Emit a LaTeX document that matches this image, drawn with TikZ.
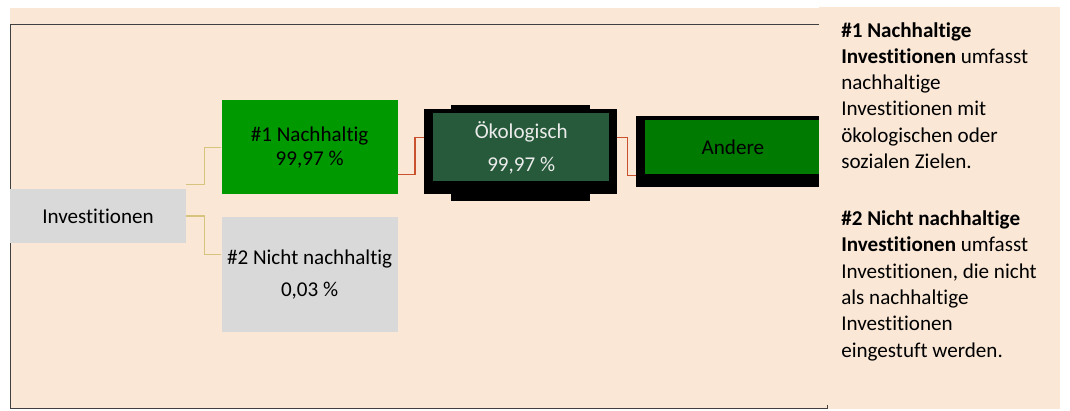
\documentclass[tikz,border=0pt]{standalone}
\usepackage{fontspec}
\setmainfont{Carlito}[Ligatures=NoCommon]
\usetikzlibrary{positioning,backgrounds}
\definecolor{beige}{HTML}{FAE7D6}
\definecolor{boxgray}{HTML}{D9D9D9}
\definecolor{nachgreen}{HTML}{009900}
\definecolor{oekogreen}{HTML}{265A3A}
\definecolor{anderegreen}{HTML}{007A00}
\definecolor{tanline}{HTML}{D6C47E}
\definecolor{redline}{HTML}{C9512E}
\tikzstyle{block} = [rectangle, align=center, inner sep=0pt, minimum width=4.4cm, font=\fontsize{15}{18}\selectfont]
\tikzstyle{blockgray} = [block, fill=boxgray]
\tikzstyle{line1} = [draw, tanline, line width=1.1pt]
\tikzstyle{line2} = [draw, redline, line width=1.3pt]

\begin{document}
\begin{tikzpicture}[x=0.025cm, y=-0.025cm]
    \useasboundingbox (0,0) rectangle (1070,410);
    \node [blockgray, minimum height=1.35cm] (inv) at (98,216) {Investitionen};
    \node [block, fill=nachgreen, minimum height=2.35cm, above right=-0.15cm and 0.875cm of inv] (nach) {\#1 Nachhaltig\\[-1pt]99,97 \%};
    \node [blockgray, minimum height=2.875cm, below right=-0.675cm and 0.875cm of inv] (nicht) {\#2 Nicht nachhaltig\\[4.8pt]0,03 \%};
    \node [block, fill=oekogreen, text=white!92!black, minimum height=1.7cm, right=0.875cm of nach] (oeko) {Ökologisch\\[5.5pt]99,97 \%};
    \node [block, fill=anderegreen, minimum height=1.35cm, right=0.875cm of oeko] (andere) {Andere};
    \begin{pgfonlayer}{background}
        \fill [beige] (10,8) rectangle (1060,409);
        \draw [line width=0.7pt, black!75] (10,24) rectangle (827,408);
        \fill ([shift={(-9,12)}]oeko.south west) rectangle ([shift={(7,-4)}]oeko.north east);
        \fill ([shift={(18,19)}]oeko.south west) rectangle ([shift={(-20,-8)}]oeko.north east);
        \fill ([shift={(-9,12)}]andere.south west) rectangle ([shift={(9,-4)}]andere.north east);
    \end{pgfonlayer}
    \path [line1] ([shift={(0,-4)}]inv.north east) -- ++(18,0) |- (nach.west);
    \path [line1] (inv.east) -- ++(18,0) |- ([shift={(0,-19.5)}]nicht.west);
    \path [line2] ([shift={(0,27)}]nach.east) -- ++(17,0) |- ([shift={(-9,-10)}]oeko.west);
    \path [line2] ([shift={(7,-10)}]oeko.east) -- ++(11,0) |- ([shift={(-9,28)}]andere.west);
    % side panel
    \fill [beige] (819,7) rectangle (1060,405);
    \node [anchor=north west, inner sep=0pt, align=left, font=\fontsize{15}{18.7}\selectfont] (info) at (841,22)
        {\textbf{\#1 Nachhaltige}\\ \textbf{Investitionen} umfasst\\ nachhaltige\\ Investitionen mit\\ ökologischen oder\\ sozialen Zielen.\\[21.8pt]
         \textbf{\#2 Nicht nachhaltige}\\ \textbf{Investitionen} umfasst\\ Investitionen, die nicht\\ als nachhaltige\\ Investitionen\\ eingestuft werden.};
\end{tikzpicture}
\end{document}
